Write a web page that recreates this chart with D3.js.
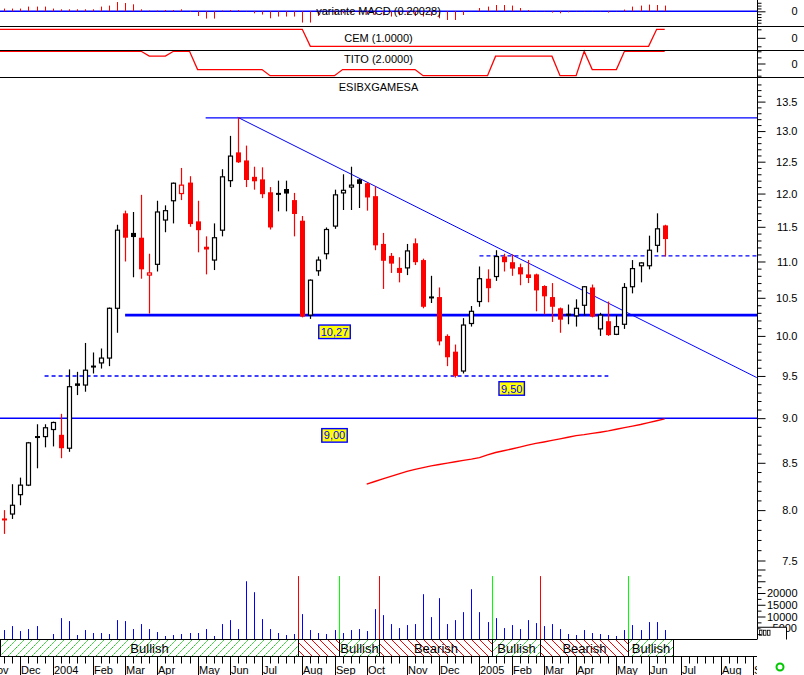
<!DOCTYPE html>
<html><head><meta charset="utf-8">
<script src="https://cdnjs.cloudflare.com/ajax/libs/d3/7.8.5/d3.min.js"></script>
<style>
body{margin:0;background:#fff;}
svg{display:block;font-family:"Liberation Sans",Arial,sans-serif;}
</style></head><body>
<svg id="c" width="804" height="675"></svg>
<script>
// ---------------- DATA ----------------
const symbol = "ESIBXGAMESA";
const firstWeek = "2003-11-21";          // Friday of first weekly bar
const priorClose = 7.95;
const open  = [7.91,7.96,8.16,8.26,8.79,8.79,8.87,8.81,8.66,9.41,9.39,9.62,9.66,9.72,10.36,11.70,11.41,11.34,10.81,10.96,11.60,11.89,12.00,12.17,11.58,11.21,11.02,11.45,12.20,12.65,12.52,12.26,12.22,12.02,12.00,12.07,11.90,11.59,10.27,10.87,11.11,11.51,12.01,12.10,12.22,12.16,11.96,11.25,11.08,10.91,10.91,11.26,11.02,10.51,10.51,10.00,9.80,9.56,10.16,10.45,10.76,10.79,11.07,10.99,10.92,10.82,10.82,10.66,10.51,10.36,10.28,10.26,10.40,10.64,10.09,10.19,10.02,10.15,10.65,10.94,10.94,11.23,11.52];
const high  = [8.00,8.27,8.34,8.73,8.93,8.93,8.96,9.05,9.58,9.55,9.91,9.79,9.84,10.37,11.53,11.74,11.72,11.98,11.11,11.89,11.82,12.17,12.40,12.27,11.89,11.36,11.55,12.38,12.92,13.23,12.76,12.42,12.41,12.10,12.20,12.20,12.01,11.66,10.75,11.07,11.49,12.06,12.30,12.42,12.23,12.17,12.11,11.41,11.12,11.06,11.25,11.33,11.04,10.80,10.64,10.02,9.89,10.23,10.39,10.93,10.89,11.16,11.11,11.10,10.97,11.02,10.83,10.67,10.70,10.37,10.41,10.48,10.66,10.68,10.30,10.45,10.27,10.70,11.02,10.99,11.37,11.70,11.53];
const low   = [7.76,7.91,8.05,8.25,8.44,8.67,8.68,8.55,8.62,9.27,9.31,9.53,9.59,9.62,10.04,11.00,10.78,10.76,10.29,10.86,11.42,11.55,11.90,11.50,11.13,10.82,10.88,11.36,12.10,12.48,12.10,12.06,11.93,11.46,11.73,11.73,11.36,10.24,10.22,10.80,11.03,11.47,11.75,11.75,11.78,11.74,11.16,10.62,10.84,10.71,10.81,10.95,10.36,10.43,9.88,9.62,9.48,9.53,10.12,10.38,10.44,10.73,10.86,10.80,10.67,10.70,10.32,10.28,10.18,10.04,10.15,10.12,10.26,10.24,10.00,10.00,10.01,10.09,10.56,10.71,10.89,11.13,11.07];
const close = [7.90,8.05,8.26,8.72,8.78,8.89,8.95,8.66,9.37,9.38,9.57,9.61,9.72,10.36,11.45,11.34,11.35,10.89,10.84,11.72,11.74,12.16,12.13,11.54,11.45,11.17,11.34,12.26,12.59,12.49,12.21,12.19,11.99,11.49,11.99,12.00,11.69,10.25,10.74,11.02,11.46,11.98,12.05,12.13,12.15,11.94,11.23,11.01,10.97,10.84,11.15,10.99,10.38,10.50,9.93,9.73,9.50,10.14,10.32,10.76,10.63,11.07,10.99,10.90,10.82,10.77,10.60,10.52,10.38,10.21,10.27,10.36,10.65,10.25,10.27,10.01,10.12,10.64,10.90,10.98,11.16,11.47,11.32];
const volume = [4240,5930,3810,4660,5930,0,2540,9320,8050,2120,4240,2970,2970,2540,8470,8050,4660,6780,4660,3390,1700,2120,2540,2970,2970,4660,1700,6780,8470,4660,25000,20340,8900,4660,2970,2120,2540,11020,4240,2970,2540,4240,2970,4240,4660,3810,13140,10590,6780,5080,6360,6780,19490,9750,17800,6780,8470,11860,21610,11860,7630,9320,5080,6360,4660,8470,7200,5930,6780,4660,2540,2120,4240,2970,2540,2120,1700,4240,6360,4240,7630,7630,4240];
const macd = [0.095,0.095,0.095,0.165,0.165,0.165,0.095,0.07,0.07,0.07,0.07,0.07,0.165,0.20,0.325,0.29,0.245,0.07,0.025,0.025,0.045,0.045,0.07,-0.025,-0.165,-0.255,-0.255,0.025,0.045,0.045,-0.01,-0.07,-0.115,-0.245,-0.185,-0.185,-0.185,-0.395,-0.395,-0.165,-0.105,-0.09,-0.07,-0.07,-0.09,-0.105,-0.12,-0.14,-0.185,-0.14,-0.13,-0.165,-0.185,-0.165,-0.245,-0.305,-0.305,-0.13,0.005,0.115,0.165,0.22,0.22,0.20,0.115,0.045,0.01,0.01,-0.045,-0.07,-0.035,0.01,0.01,0.01,0.01,-0.045,0.01,0.06,0.165,0.20,0.235,0.22,0.20028];
const cem  = [1,1,1,1,1,1,1,1,1,1,1,1,1,1,1,1,1,1,1,1,1,1,1,1,1,1,1,1,1,1,1,1,1,1,1,1,1,1,-1,-1,-1,-1,-1,-1,-1,-1,-1,-1,-1,-1,-1,-1,-1,-1,-1,-1,-1,-1,-1,-1,-1,-1,-1,-1,-1,-1,-1,-1,-1,-1,-1,-1,-1,-1,-1,-1,-1,-1,-1,-1,-1,1,1];
const tito = [2,2,2,2,2,2,2,2,2,2,2,2,2,2,2,2,2,2,1.2,1.2,1.2,2,2,2,-1,-1,-1,-1,-1,-1,-1,-1,-1,-2,-2,-2,-2,-2,-2,-2,-2,-2,-1,-1,-1,-1,-1,-1,-1,-1,-1,-1,-2,-2,-2,-2,-2,-2,-2,-2,-2,1.2,1.2,1.2,1.2,1.2,1.2,1.2,1.2,-2,-2,-2,2,-1,-1,-1,-1,2,2,2,2,2,2];
const maFirst = 45;   // index of first bar with a moving-average value
const ma = [8.271,8.299,8.326,8.354,8.380,8.407,8.429,8.448,8.466,8.482,8.496,8.511,8.526,8.540,8.557,8.586,8.613,8.632,8.651,8.672,8.695,8.714,8.730,8.747,8.765,8.783,8.801,8.812,8.826,8.839,8.854,8.873,8.892,8.909,8.927,8.948,8.970,8.991];
const trendLabels = ["Bullish","Bearish","Bullish","Bearish","Bullish","Bearish","Bullish"];
const trendFrom   = [0,37,42,47,61,67,78];
const trendTo     = [36,41,46,60,66,77,82];
const priceTicks = [7.5,8.0,8.5,9.0,9.5,10.0,10.5,11.0,11.5,12.0,12.5,13.0,13.5];
const volTicks = [5000,10000,15000,20000];
// horizontal levels: value, first bar index (-1 = left edge), last bar index (-1 = right edge)
const levelValue = [13.22, 10.27, 11.08, 9.50, 9.00];
const levelFrom  = [25, 15, 59, 5, -1];
const levelTo    = [-1, -1, -1, 75, -1];
const levelDash  = [false, false, true, true, false];
const levelWidth = [1.3, 2.6, 1.4, 1.4, 1.5];
const trendLineStart = {date:"2004-06-11", value:13.23};
const trendLineEnd   = {date:"2005-09-05", value:9.48};
const boxTexts  = ["10,27","9,50","9,00"];
const boxBar    = [41, 63, 41];
const boxPrice  = [10.14, 9.43, 8.88];

// ---------------- SETUP ----------------
const svg = d3.select("#c");
const AX = 757;
const RED = "#ff0000", BLUE = "#0000ff", GREEN = "#00ff00";
const parse = d3.utcParse("%Y-%m-%d");
const d0 = parse(firstWeek);
const dates = close.map((_, i) => d3.utcDay.offset(d0, 7 * i));
const x = d3.scaleUtc().domain([d0, parse("2005-09-02")]).range([4.3, 753.3]);
const px = d => Math.round(x(d));
const yP = d3.scaleLog().domain([7.5, 13.5]).range([560.5, 101.6]);
const yV = d3.scaleLinear().domain([0, 30000]).range([640, 569.5]);
const yM = d3.scaleLinear().domain([-0.4, 0.4]).range([22.7, -0.1]);
const yC = d3.scaleLinear().domain([-1, 1]).range([46.3, 29.3]);
const yT = d3.scaleLinear().domain([-2, 2]).range([75.7, 51.3]);

const defs = svg.append("defs");
defs.append("clipPath").attr("id","plot").append("rect").attr("x",0).attr("y",0).attr("width",AX).attr("height",675);
const pb = defs.append("pattern").attr("id","bull").attr("patternUnits","userSpaceOnUse").attr("width",8).attr("height",8);
pb.append("rect").attr("width",8).attr("height",8).attr("fill","#fff");
pb.append("path").attr("d","M0,8L8,0M-2,2L2,-2M6,10L10,6").attr("stroke","#00c800").attr("stroke-width",1).attr("stroke-dasharray","2,1");
const pr = defs.append("pattern").attr("id","bear").attr("patternUnits","userSpaceOnUse").attr("width",8).attr("height",8);
pr.append("rect").attr("width",8).attr("height",8).attr("fill","#fff");
pr.append("path").attr("d","M0,0L8,8M-2,6L2,10M6,-2L10,2").attr("stroke",RED).attr("stroke-width",1);

const plot = svg.append("g").attr("clip-path","url(#plot)");

// ---------------- TOP PANELS ----------------
// MACD
plot.append("line").attr("x1",0).attr("x2",AX).attr("y1",yM(0)).attr("y2",yM(0)).attr("stroke",BLUE).attr("stroke-width",1.4);
plot.append("g").selectAll("line").data(macd).join("line")
  .attr("x1",(d,i)=>px(dates[i])+0.5).attr("x2",(d,i)=>px(dates[i])+0.5)
  .attr("y1",yM(0)).attr("y2",d=>yM(d)).attr("stroke",RED).attr("stroke-width",1);

function stepLine(vals, ys) {
  const pts = [[0, ys(vals[0])]].concat(vals.map((v,i)=>[x(dates[i]), ys(v)]));
  plot.append("path").attr("d", d3.line()(pts)).attr("fill","none").attr("stroke",RED).attr("stroke-width",1.3);
}
stepLine(cem, yC);
stepLine(tito, yT);

const title = (t, yy) => svg.append("text").attr("x",AX/2).attr("y",yy).attr("text-anchor","middle")
  .attr("font-size",11).attr("dominant-baseline","central").text(t);
title("variante MACD (" + macd[macd.length-1].toFixed(5) + ")", 11.3);
title("CEM (" + cem[cem.length-1].toFixed(4) + ")", 37.5);
title("TITO (" + tito[tito.length-1].toFixed(4) + ")", 58.5);
title(symbol, 87);

[26.5, 50.5, 77.5].forEach(yy => svg.append("line").attr("x1",0).attr("x2",804).attr("y1",yy).attr("y2",yy).attr("stroke","#000"));

// ---------------- PRICE PANEL ----------------
// levels
levelValue.forEach((v,i) => {
  const xa = levelFrom[i] < 0 ? 0 : x(dates[levelFrom[i]]);
  const xb = levelTo[i] < 0 ? AX : x(dates[levelTo[i]]);
  plot.append("line").attr("x1",xa).attr("x2",xb).attr("y1",yP(v)).attr("y2",yP(v))
    .attr("stroke",BLUE).attr("stroke-width",levelWidth[i]).attr("stroke-dasharray", levelDash[i] ? "4,3" : null);
});
plot.append("line")
  .attr("x1",x(parse(trendLineStart.date))).attr("y1",yP(trendLineStart.value))
  .attr("x2",x(parse(trendLineEnd.date))).attr("y2",yP(trendLineEnd.value))
  .attr("stroke",BLUE).attr("stroke-width",1);

// moving average
plot.append("path").attr("d", d3.line()(ma.map((v,i)=>[x(dates[maFirst+i]), yP(v)])))
  .attr("fill","none").attr("stroke",RED).attr("stroke-width",1.4);

// candles (hollow style: filled when close<open, red when close<previous close)
const cg = plot.append("g");
close.forEach((c,i) => {
  const o = open[i], prev = i === 0 ? priorClose : close[i-1];
  const col = c < prev ? RED : "#000";
  const cx = px(dates[i]);
  cg.append("line").attr("x1",cx+0.5).attr("x2",cx+0.5).attr("y1",yP(high[i])).attr("y2",yP(low[i]))
    .attr("stroke",col).attr("stroke-width",1.2);
  const yt = Math.min(yP(o), yP(c)), yb = Math.max(yP(o), yP(c));
  if (c < o) {
    const h = Math.max(2, yb - yt);
    cg.append("rect").attr("x",cx-2).attr("width",5).attr("y",(yt+yb)/2-h/2).attr("height",h).attr("fill",col);
  } else {
    const h = Math.max(1, yb - yt);
    cg.append("rect").attr("x",cx-1.5).attr("width",4).attr("y",yt).attr("height",h)
      .attr("fill","#fff").attr("stroke",col).attr("stroke-width",1.2);
  }
});

// label boxes
boxTexts.forEach((t,i) => {
  const cxx = x(dates[boxBar[i]]), top = yP(boxPrice[i]);
  const g = svg.append("g");
  const r = g.append("rect");
  const tx = g.append("text").attr("x",cxx).attr("y",top+6.8).attr("text-anchor","middle")
    .attr("dominant-baseline","central").attr("font-size",11).attr("fill",BLUE).text(t);
  const w = tx.node().getComputedTextLength() + 4;
  r.attr("x",cxx-w/2).attr("y",top).attr("width",w).attr("height",13.5)
    .attr("fill","#ffff00").attr("stroke",BLUE).attr("stroke-width",1.4);
});

// ---------------- VOLUME ----------------
plot.append("g").selectAll("line").data(volume).join("line")
  .attr("x1",(d,i)=>px(dates[i])+0.5).attr("x2",(d,i)=>px(dates[i])+0.5)
  .attr("y1",yV(0)).attr("y2",d=>yV(d)).attr("stroke",BLUE).attr("stroke-width",1);

// trend band
const bandTop = 639.5, bandH = 17;
const segX0 = trendFrom.map(f => f === 0 ? 0 : (x(dates[f-1]) + x(dates[f])) / 2);
const segX1 = trendTo.map((t,k) => k === trendTo.length-1 ? x(d3.utcDay.offset(dates[t],7)) : (x(dates[t]) + x(dates[t+1])) / 2);
trendLabels.forEach((lab,k) => {
  const a = Math.round(segX0[k]) + 0.5, b = Math.round(segX1[k]) + 0.5;
  plot.append("rect").attr("x",a).attr("y",bandTop).attr("width",b-a).attr("height",bandH)
    .attr("fill", lab === "Bullish" ? "url(#bull)" : "url(#bear)");
  if (k > 0) {
    plot.append("line").attr("x1",a).attr("x2",a).attr("y1",yV(27200)).attr("y2",bandTop)
      .attr("stroke", lab === "Bullish" ? GREEN : RED).attr("stroke-width",1);
  }
  plot.append("line").attr("x1",a).attr("x2",a).attr("y1",bandTop).attr("y2",bandTop+bandH).attr("stroke","#000");
  plot.append("line").attr("x1",b).attr("x2",b).attr("y1",bandTop).attr("y2",bandTop+bandH).attr("stroke","#000");
  const t = plot.append("text").attr("x",(a+b)/2).attr("y",bandTop+13.5).attr("text-anchor","middle")
    .attr("font-size",13).attr("fill","#000").text(lab);
  if (t.node().getComputedTextLength() > b - a) t.remove();
});
svg.append("line").attr("x1",0).attr("x2",AX).attr("y1",bandTop).attr("y2",bandTop).attr("stroke","#000");
svg.append("line").attr("x1",0).attr("x2",AX).attr("y1",bandTop+bandH).attr("y2",bandTop+bandH).attr("stroke","#000");

// ---------------- X AXIS ----------------
const fridays = d3.utcFriday.range(parse("2003-10-25"), parse("2005-10-01"));
const xg = plot.append("g");
fridays.forEach(d => {
  const xx = px(d) + 0.5;
  if (xx < -30 || xx > AX) return;
  const isMonth = d.getUTCDate() <= 7;
  xg.append("line").attr("x1",xx).attr("x2",xx).attr("y1",bandTop+bandH).attr("y2",isMonth ? 675 : 663.5)
    .attr("stroke","#000");
  if (isMonth) {
    xg.append("text").attr("x",xx+0.5).attr("y",673.5).attr("font-size",11)
      .text(d.getUTCMonth() === 0 ? d3.utcFormat("%Y")(d) : d3.utcFormat("%b")(d));
  }
});

// ---------------- RIGHT AXES ----------------
svg.append("line").attr("x1",AX+0.5).attr("x2",AX+0.5).attr("y1",0).attr("y2",bandTop).attr("stroke","#000");
function rightAxis(scale, majors, minors, labels) {
  const g1 = svg.append("g").attr("transform",`translate(${AX+0.5},0)`)
    .call(d3.axisRight(scale).tickValues(minors).tickSize(4).tickFormat(""));
  const g2 = svg.append("g").attr("transform",`translate(${AX+0.5},0)`)
    .call(d3.axisRight(scale).tickValues(majors).tickSize(8).tickFormat(labels));
  [g1,g2].forEach(g => { g.select(".domain").remove(); g.selectAll("text").attr("font-size",11)
      .attr("font-family","Liberation Sans, Arial, sans-serif").attr("text-anchor","end").attr("x",40).attr("fill","#000"); });
  return g2;
}
const priceMinor = d3.range(75, 139).map(v => v/10).filter(v => Math.abs(v*2 - Math.round(v*2)) > 1e-6);
rightAxis(yP, priceTicks, priceMinor, d3.format(".1f"));
const volMinor = d3.range(1, 13).map(k => k*2500).filter(v => v % 5000 !== 0);
rightAxis(yV, [5000,10000,15000,20000,25000,30000], volMinor, v => volTicks.includes(v) && v !== 5000 ? v : "");
rightAxis(yM, [0], [-0.4,-0.3,-0.2,-0.1,0.1,0.2,0.3], () => "0");
rightAxis(yC, [0], [-1,1], () => "0");
rightAxis(yT, [0], [-2,-1,1,2], () => "0");

// partially hidden 5000 label box
svg.append("text").attr("x",AX+40).attr("y",yV(5000)).attr("dy","0.32em").attr("text-anchor","end").attr("font-size",11).text("5000");
svg.append("path").attr("d",`M${AX+0.5},${yV(5000)-1}H786.5V${bandTop}`).attr("fill","#fff").attr("stroke","#000");
[0,1,2].forEach(k => svg.append("rect").attr("x",AX+2.5+k*4).attr("y",yV(5000)+2).attr("width",2.5).attr("height",5)
  .attr("fill","none").attr("stroke","#000").attr("stroke-width",0.8));

// status circle
svg.append("circle").attr("cx",780).attr("cy",667).attr("r",3.5).attr("fill","#fff").attr("stroke","#00c800").attr("stroke-width",2);
</script>
</body></html>
